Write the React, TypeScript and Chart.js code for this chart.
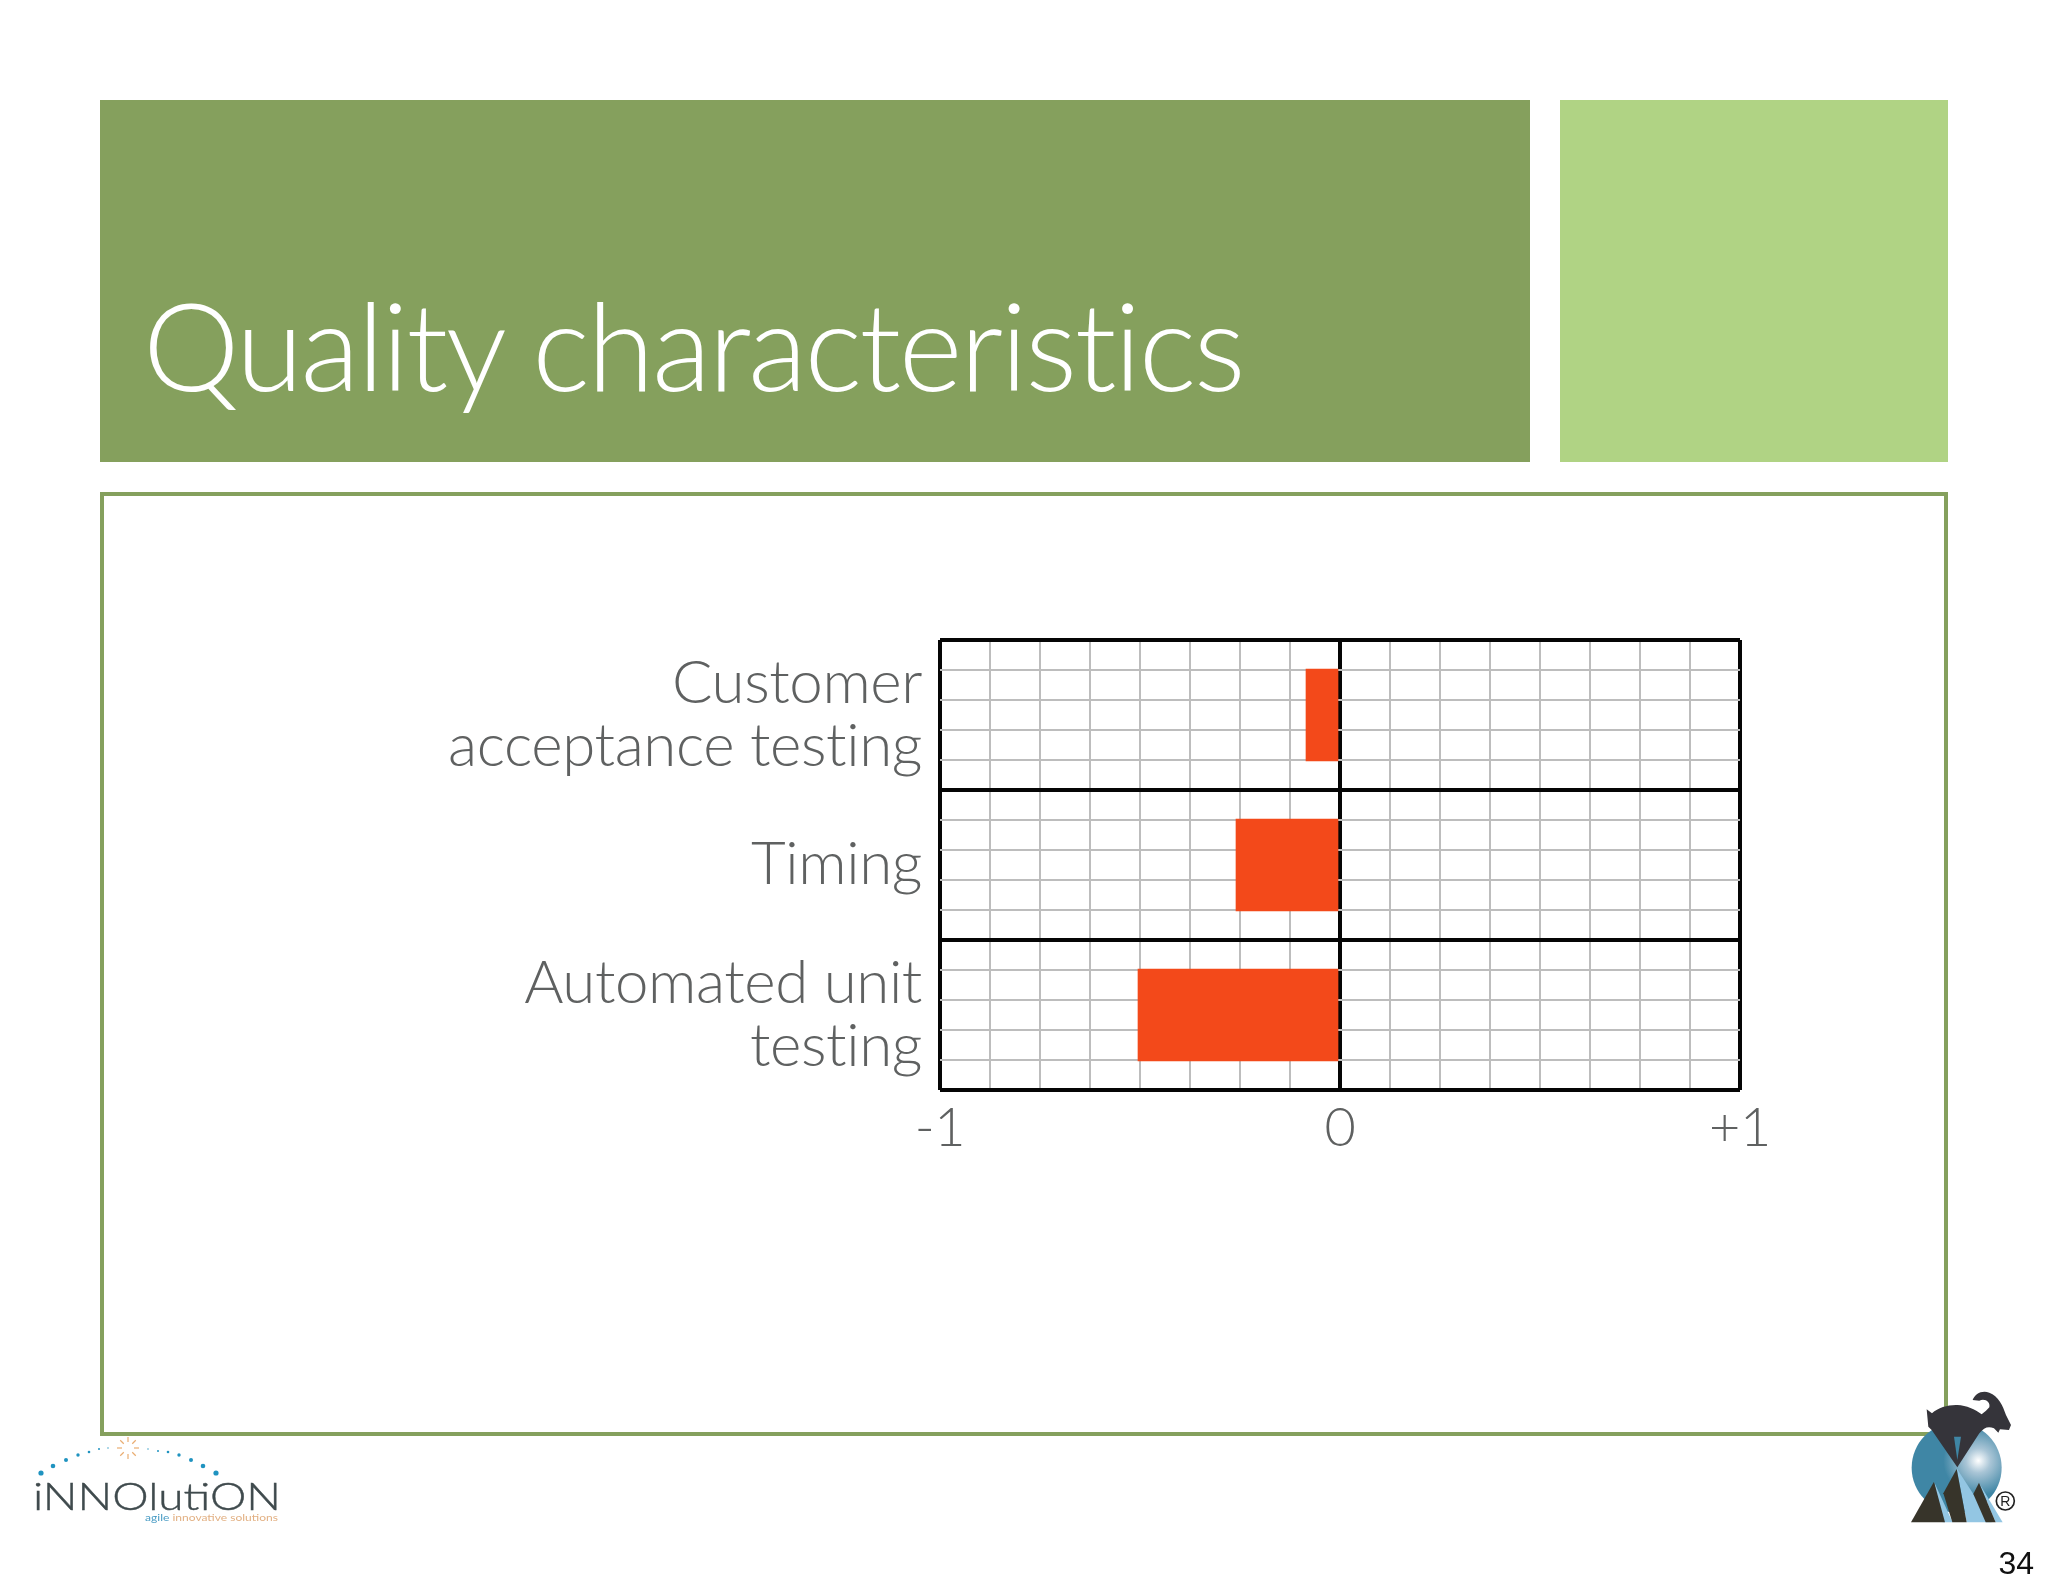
import React, { useEffect, useRef } from "react";
import { Chart, registerables } from "chart.js";

Chart.register(...registerables);

const categories: string[][] = [
  ["Customer", "acceptance testing"],
  ["Timing"],
  ["Automated unit", "testing"],
];
const values = [-0.085, -0.26, -0.505];
const xTickLabels: Record<string, string> = { "-1": "-1", "0": "0", "1": "+1" };
const rowCount = 15;
const columnStep = 0.125;
const pageTitle = "Quality characteristics";

const BLACK = "#050505";
const GRAY = "#bdbdbd";
const TEXT = "#5f6161";
const FONT = "Lato, 'Open Sans', sans-serif";

const abs = (extra: React.CSSProperties): React.CSSProperties => ({ position: "absolute", ...extra });

const dots: [number, number, number][] = [
  [41, 1473, 2.6], [53, 1466, 2.3], [66, 1460, 2], [78, 1455, 1.7], [89, 1452, 1.3], [99, 1449, 1], [108, 1448, 0.7],
  [148, 1449, 0.7], [158, 1451, 1], [168, 1452, 1.3], [179, 1455, 1.7], [191, 1460, 2], [203, 1466, 2.3], [216, 1473, 2.6],
];
const rays = [0, 45, 90, 135, 180, 225, 270, 315];

function Innolution() {
  return (
    <svg width={2048} height={1582} style={abs({ left: 0, top: 0 })}>
      {dots.map(([x, y, r], i) => (
        <circle key={i} cx={x} cy={y} r={r} fill="#1f93c0" />
      ))}
      {rays.map((a) => (
        <line
          key={a}
          x1={128}
          y1={1442}
          x2={128}
          y2={1437}
          transform={`rotate(${a} 128 1448)`}
          stroke="#e9ad72"
          strokeWidth={1.2}
        />
      ))}
      <text
        x={33}
        y={1510}
        fontFamily="Lato"
        fontWeight={300}
        fontSize={38}
        fill="#3f4a4d"
        stroke="#3f4a4d"
        strokeWidth={0.4}
        textLength={248}
        lengthAdjust="spacingAndGlyphs"
      >
        iNNOlutiON
      </text>
      <text x={145} y={1521} fontFamily="Lato" fontSize={9} fill="#e2b083" textLength={133} lengthAdjust="spacingAndGlyphs">
        <tspan fill="#4a9cc4">agile </tspan>innovative solutions
      </text>
    </svg>
  );
}

function GoatLogo() {
  return (
    <svg width={2048} height={1582} style={abs({ left: 0, top: 0 })}>
      <defs>
        <radialGradient id="sphere" gradientUnits="userSpaceOnUse" cx={355} cy={272} r={105}>
          <stop offset="0" stopColor="#ffffff" />
          <stop offset="0.35" stopColor="#a9c5d6" />
          <stop offset="1" stopColor="#3f86a5" />
        </radialGradient>
      </defs>
      <g transform="translate(1860 1370) scale(0.3333)">
        <circle cx={290} cy={293} r={135} fill="url(#sphere)" />
        <polygon points="222,335 278,457 248,457" fill="#93c6e3" />
        <polygon points="290,295 395,457 320,457" fill="#93c6e3" />
        <polygon points="357,338 428,457 407,457" fill="#93c6e3" />
        <polygon points="153,457 222,335 255,457" fill="#37342a" />
        <polygon points="250,370 290,297 320,457 277,457" fill="#37342a" />
        <polygon points="340,372 357,338 407,457 377,457" fill="#37342a" />
        <path
          d="M200 118 L216 130 C235 112 265 104 292 105 C320 106 345 118 365 133 L378 122 L388 112 C392 96 375 84 358 92 L338 90 C345 72 365 60 388 68 C415 78 428 105 438 135 L453 165 L447 180 L420 178 L415 188 L402 175 C385 168 372 172 358 190 L292 292 L215 180 L205 170 Z"
          fill="#35343a"
        />
        <polygon points="282,200 303,200 292,270" fill="#3f86a5" />
        <circle cx={436} cy={393} r={27} fill="none" stroke="#222" strokeWidth={5} />
        <text x={436} y={408} textAnchor="middle" fontFamily="Liberation Sans" fontSize={42} fill="#222">
          R
        </text>
      </g>
    </svg>
  );
}

export default function App() {
  const ref = useRef<HTMLCanvasElement>(null);
  useEffect(() => {
    const canvas = ref.current;
    if (!canvas) return;
    const isMajorX = (c: any) => {
      if (!c.tick) return true;
      const v = c.tick.value;
      return Math.abs(v) < 1e-6 || Math.abs(Math.abs(v) - 1) < 1e-6;
    };
    const isMajorRow = (c: any) => !c.tick || c.tick.value % 5 === 0;
    const chart = new Chart(canvas, {
      type: "bar",
      data: {
        labels: categories,
        datasets: [
          {
            data: values,
            backgroundColor: "#f3491a",
            borderWidth: 0,
            barThickness: 92,
            yAxisID: "y",
          },
        ],
      },
      plugins: [
        {
          id: "tightText",
          beforeDraw: (c: any) => {
            c.ctx.letterSpacing = "-0.4px";
          },
        },
      ],
      options: {
        indexAxis: "y",
        animation: false,
        responsive: false,
        devicePixelRatio: 1,
        layout: { padding: { top: 640, right: 308, left: 0, bottom: 0 } },
        plugins: { legend: { display: false }, tooltip: { enabled: false }, title: { display: false } },
        scales: {
          x: {
            type: "linear",
            min: -1,
            max: 1,
            position: "bottom",
            afterFit: (s: any) => {
              s.height = 492;
            },
            border: { display: false },
            grid: {
              drawTicks: false,
              color: (c: any) => (isMajorX(c) ? BLACK : GRAY),
              lineWidth: (c: any) => (isMajorX(c) ? 4 : 2),
            },
            ticks: {
              stepSize: columnStep,
              autoSkip: false,
              maxRotation: 0,
              maxTicksLimit: 20,
              padding: 6,
              color: TEXT,
              font: { family: FONT, size: 54, weight: "300" },
              callback: (v: any) => xTickLabels[String(v)] ?? "",
            },
          },
          y: {
            type: "category",
            position: "left",
            afterFit: (s: any) => {
              s.width = 940;
            },
            border: { display: false },
            grid: { display: false },
            ticks: {
              autoSkip: false,
              padding: 10,
              color: TEXT,
              font: { family: FONT, size: 60, weight: "300", lineHeight: 1.06 },
            },
          },
          rows: {
            type: "linear",
            position: "right",
            min: 0,
            max: rowCount,
            offset: false,
            afterFit: (s: any) => {
              s.width = 0;
            },
            border: { display: false },
            grid: {
              offset: false,
              drawTicks: false,
              color: (c: any) => (isMajorRow(c) ? BLACK : GRAY),
              lineWidth: (c: any) => (isMajorRow(c) ? 4 : 2),
            },
            ticks: { display: false, stepSize: 1, maxTicksLimit: 20 },
          },
        },
      },
    } as any);
    return () => chart.destroy();
  }, []);

  return (
    <div style={abs({ left: 0, top: 0, width: 2048, height: 1582, background: "#fff", overflow: "hidden" })}>
      <div style={abs({ left: 100, top: 100, width: 1430, height: 362, background: "#85a05d" })} />
      <div style={abs({ left: 1560, top: 100, width: 388, height: 362, background: "#b0d384" })} />
      <div
        style={abs({
          left: 100,
          top: 492,
          width: 1848,
          height: 944,
          boxSizing: "border-box",
          border: "4px solid #85a05d",
        })}
      />
      <div
        style={abs({
          left: 143,
          top: 271,
          color: "#fff",
          fontFamily: FONT,
          fontWeight: 300,
          fontSize: 122,
          letterSpacing: "-2.45px",
          fontVariantLigatures: "none",
          lineHeight: "146px",
          whiteSpace: "nowrap",
        })}
      >
        {pageTitle}
      </div>
      <canvas ref={ref} width={2048} height={1582} style={abs({ left: 0, top: 0, width: 2048, height: 1582 })} />
      <Innolution />
      <GoatLogo />
      <div
        style={abs({
          right: 14,
          top: 1545,
          fontFamily: "'Liberation Sans', Arial, sans-serif",
          fontSize: 32,
          lineHeight: "36px",
          color: "#111",
        })}
      >
        34
      </div>
    </div>
  );
}
